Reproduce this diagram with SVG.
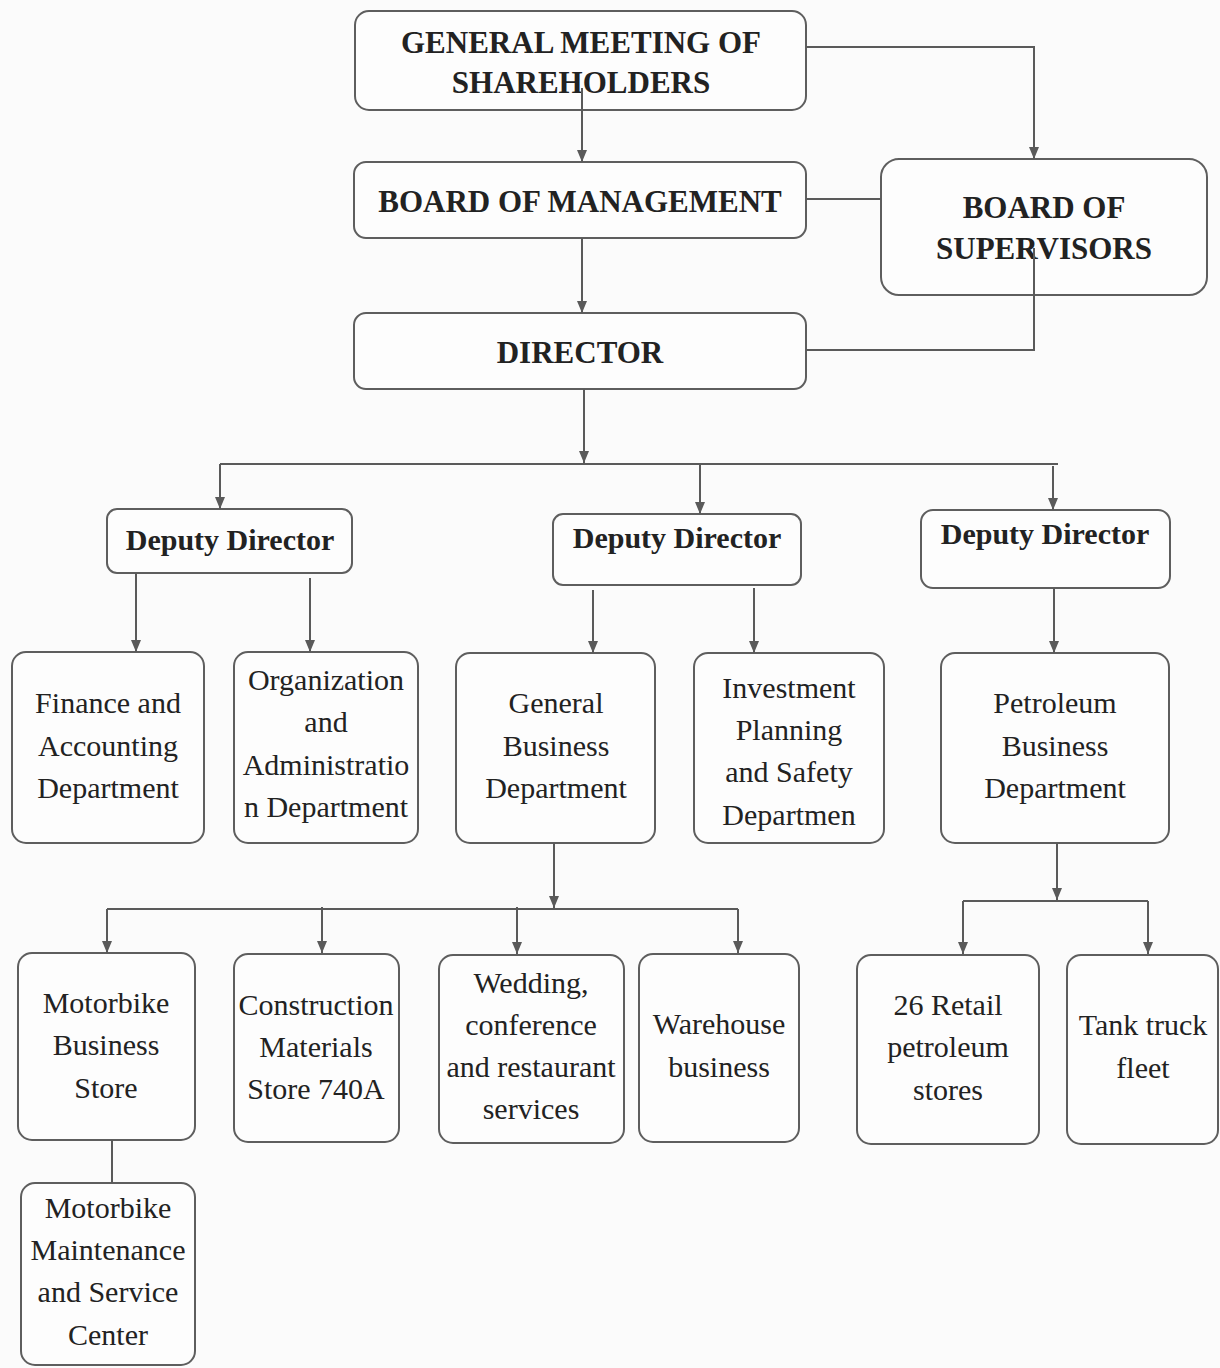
<svg xmlns="http://www.w3.org/2000/svg" width="1220" height="1368" viewBox="0 0 1220 1368">
<defs>
<marker id="arr" markerUnits="userSpaceOnUse" markerWidth="12" markerHeight="10" viewBox="0 0 12 10" refX="12" refY="5" orient="auto">
<path d="M0,0 L12,5 L0,10 z" fill="#5a5a5a"/>
</marker>
<style>
.box{fill:#fdfdfd;stroke:#5e5e5e;stroke-width:2}
.t{font-family:"Liberation Serif","Times New Roman",serif;font-size:30px;fill:#222;text-anchor:middle}
.b{font-weight:bold}
.h{font-size:31px}
.c{fill:none;stroke:#5a5a5a;stroke-width:2}
.a{marker-end:url(#arr)}
</style>
</defs>
<rect width="1220" height="1368" fill="#fbfbfb"/>

<g id="gms">
<rect class="box" x="355" y="11" width="451" height="99" rx="14"/>
<text class="t b h" x="581" y="53">GENERAL MEETING OF</text>
<text class="t b h" x="581" y="93">SHAREHOLDERS</text>
</g>
<g id="bom">
<rect class="box" x="354" y="162" width="452" height="76" rx="12"/>
<text class="t b h" x="580" y="212">BOARD OF MANAGEMENT</text>
</g>
<g id="bos">
<rect class="box" x="881" y="159" width="326" height="136" rx="18"/>
<text class="t b h" x="1044" y="218">BOARD OF</text>
<text class="t b h" x="1044" y="259">SUPERVISORS</text>
</g>
<g id="director">
<rect class="box" x="354" y="313" width="452" height="76" rx="12"/>
<text class="t b h" x="580" y="363">DIRECTOR</text>
</g>

<g id="dd1">
<rect class="box" x="107" y="509" width="245" height="64" rx="10"/>
<text class="t b" x="230" y="550">Deputy Director</text>
</g>
<g id="dd2">
<rect class="box" x="553" y="514" width="248" height="71" rx="10"/>
<text class="t b" x="677" y="548">Deputy Director</text>
</g>
<g id="dd3">
<rect class="box" x="921" y="510" width="249" height="78" rx="12"/>
<text class="t b" x="1045" y="544">Deputy Director</text>
</g>

<g id="finance">
<rect class="box" x="12" y="652" width="192" height="191" rx="14"/>
<text class="t" x="108" y="713">Finance and</text>
<text class="t" x="108" y="756">Accounting</text>
<text class="t" x="108" y="798">Department</text>
</g>
<g id="org">
<rect class="box" x="234" y="652" width="184" height="191" rx="14"/>
<text class="t" x="326" y="690">Organization</text>
<text class="t" x="326" y="732">and</text>
<text class="t" x="326" y="775">Administratio</text>
<text class="t" x="326" y="817">n Department</text>
</g>
<g id="general">
<rect class="box" x="456" y="653" width="199" height="190" rx="14"/>
<text class="t" x="556" y="713">General</text>
<text class="t" x="556" y="756">Business</text>
<text class="t" x="556" y="798">Department</text>
</g>
<g id="investment">
<rect class="box" x="694" y="653" width="190" height="190" rx="14"/>
<text class="t" x="789" y="698">Investment</text>
<text class="t" x="789" y="740">Planning</text>
<text class="t" x="789" y="782">and Safety</text>
<text class="t" x="789" y="825">Departmen</text>
</g>
<g id="petroleum">
<rect class="box" x="941" y="653" width="228" height="190" rx="14"/>
<text class="t" x="1055" y="713">Petroleum</text>
<text class="t" x="1055" y="756">Business</text>
<text class="t" x="1055" y="798">Department</text>
</g>

<g id="motorbike-store">
<rect class="box" x="18" y="953" width="177" height="187" rx="14"/>
<text class="t" x="106" y="1013">Motorbike</text>
<text class="t" x="106" y="1055">Business</text>
<text class="t" x="106" y="1098">Store</text>
</g>
<g id="construction">
<rect class="box" x="234" y="954" width="165" height="188" rx="14"/>
<text class="t" x="316" y="1015">Construction</text>
<text class="t" x="316" y="1057">Materials</text>
<text class="t" x="316" y="1099">Store 740A</text>
</g>
<g id="wedding">
<rect class="box" x="439" y="955" width="185" height="188" rx="14"/>
<text class="t" x="531" y="993">Wedding,</text>
<text class="t" x="531" y="1035">conference</text>
<text class="t" x="531" y="1077">and restaurant</text>
<text class="t" x="531" y="1119">services</text>
</g>
<g id="warehouse">
<rect class="box" x="639" y="954" width="160" height="188" rx="14"/>
<text class="t" x="719" y="1034">Warehouse</text>
<text class="t" x="719" y="1077">business</text>
</g>
<g id="maintenance">
<rect class="box" x="21" y="1183" width="174" height="182" rx="14"/>
<text class="t" x="108" y="1218">Motorbike</text>
<text class="t" x="108" y="1260">Maintenance</text>
<text class="t" x="108" y="1302">and Service</text>
<text class="t" x="108" y="1345">Center</text>
</g>
<g id="retail">
<rect class="box" x="857" y="955" width="182" height="189" rx="14"/>
<text class="t" x="948" y="1015">26 Retail</text>
<text class="t" x="948" y="1057">petroleum</text>
<text class="t" x="948" y="1100">stores</text>
</g>
<g id="tank">
<rect class="box" x="1067" y="955" width="151" height="189" rx="14"/>
<text class="t" x="1143" y="1035">Tank truck</text>
<text class="t" x="1143" y="1078">fleet</text>
</g>

<g id="connectors">
<path class="c a" d="M582,88 V162"/>
<path class="c a" d="M806,47 H1034 V159"/>
<path class="c" d="M806,199 H881"/>
<path class="c a" d="M582,238 V313"/>
<path class="c" d="M1034,248 V350 H806"/>
<path class="c a" d="M584,389 V463"/>
<path class="c" d="M220,464 H1058"/>
<path class="c a" d="M220,464 V509"/>
<path class="c a" d="M700,465 V514"/>
<path class="c a" d="M1053,466 V510"/>
<path class="c a" d="M136,573 V652"/>
<path class="c a" d="M310,578 V652"/>
<path class="c a" d="M593,590 V653"/>
<path class="c a" d="M754,588 V653"/>
<path class="c a" d="M1054,588 V653"/>
<path class="c a" d="M554,843 V908"/>
<path class="c" d="M107,909 H738"/>
<path class="c a" d="M107,909 V953"/>
<path class="c a" d="M322,907 V953"/>
<path class="c a" d="M517,907 V954"/>
<path class="c a" d="M738,909 V953"/>
<path class="c" d="M112,1140 V1183"/>
<path class="c a" d="M1057,843 V900"/>
<path class="c" d="M963,901 H1148"/>
<path class="c a" d="M963,901 V954"/>
<path class="c a" d="M1148,901 V954"/>
</g>
</svg>
